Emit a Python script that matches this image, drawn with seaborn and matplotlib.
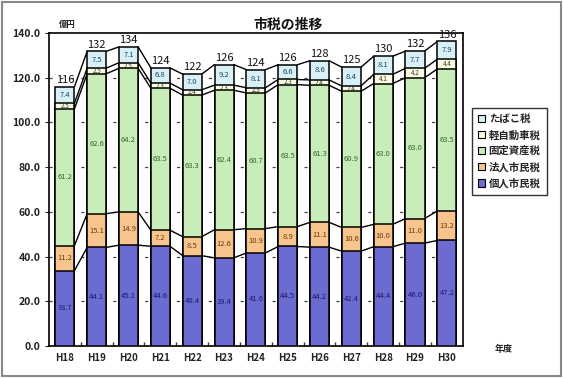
import numpy as np
import pandas as pd
import matplotlib
matplotlib.use("Agg")
import matplotlib.pyplot as plt
import seaborn as sns
from matplotlib.patches import Rectangle, Patch

# 年度
years = ["H18", "H19", "H20", "H21", "H22", "H23", "H24",
         "H25", "H26", "H27", "H28", "H29", "H30"]

# 税目別の税収（億円）
kojin = [33.7, 44.1, 45.1, 44.6, 40.4, 39.4, 41.6, 44.5, 44.2, 42.4, 44.4, 46.0, 47.2]
hojin = [11.2, 15.1, 14.9, 7.2, 8.5, 12.6, 10.9, 8.9, 11.1, 10.6, 10.0, 11.0, 13.2]
kotei = [61.2, 62.6, 64.2, 63.5, 63.3, 62.4, 60.7, 63.5, 61.3, 60.9, 63.0, 63.0, 63.5]
keijidosha = [2.5, 2.5, 2.5, 2.3, 2.4, 2.3, 2.3, 2.3, 2.4, 2.4, 4.1, 4.2, 4.4]
tabako = [7.4, 7.5, 7.1, 6.8, 7.0, 9.2, 8.1, 6.6, 8.6, 8.4, 8.1, 7.7, 7.9]

series_names = ["個人市民税", "法人市民税", "固定資産税", "軽自動車税", "たばこ税"]
series_values = [kojin, hojin, kotei, keijidosha, tabako]
series_colors = ["#6B6BD0", "#F8C48E", "#C9EDB9", "#FBFBDF", "#D7F1F7"]
label_colors = ["#1C1C6E", "#6B3A10", "#2E6B2E", "#333333", "#1F3F66"]

sns.set_theme(style="white")
plt.rcParams["font.family"] = ["Noto Sans CJK JP", "DejaVu Sans"]

df = pd.DataFrame({"年度": years})
for name, vals in zip(series_names, series_values):
    df[name] = vals
cum = df[series_names].cumsum(axis=1)
totals = cum[series_names[-1]]

fig = plt.figure(figsize=(5.63, 3.78), dpi=100)
fig.patch.set_facecolor("white")
ax = fig.add_axes([0.087, 0.0847, 0.735, 0.828])

bar_w = 0.6
# 上の層から順に累積値の棒を重ねて積み上げ棒を作る
for name, color in reversed(list(zip(series_names, series_colors))):
    sns.barplot(x=df["年度"], y=cum[name], color=color, saturation=1,
                edgecolor="black", linewidth=1.1, width=bar_w, ax=ax, zorder=3)

# 区分線（各層の上端を隣の棒とつなぐ）
for name in series_names:
    tops = cum[name].to_numpy()
    for i in range(len(years) - 1):
        ax.plot([i + bar_w / 2, i + 1 - bar_w / 2], [tops[i], tops[i + 1]],
                color="black", lw=1.0, zorder=2)

# 各層の値ラベル
for k, name in enumerate(series_names):
    vals = df[name].to_numpy()
    tops = cum[name].to_numpy()
    fs = 4.5 if name == "軽自動車税" else 5.5
    for i, v in enumerate(vals):
        ax.text(i, tops[i] - v / 2, f"{v:.1f}", ha="center", va="center",
                fontsize=fs, color=label_colors[k], zorder=5)

# 合計ラベル
for i, t in enumerate(totals):
    ax.text(i, t + 0.8, f"{t:.0f}", ha="center", va="bottom",
            fontsize=8, color="#111111", zorder=5)

ax.set_xlim(-0.5, len(years) - 0.5)
ax.set_ylim(0, 140)
ax.set_yticks(np.arange(0, 141, 20))
ax.set_yticklabels([f"{v:.1f}" for v in np.arange(0, 141, 20)],
                   fontsize=7.5, fontweight="bold", color="#222222")
ax.set_xticks(range(len(years)))
ax.set_xticklabels(years, fontsize=7, fontweight="bold", color="#222222")
ax.set_xlabel("")
ax.set_ylabel("")
ax.tick_params(axis="x", length=0, pad=5)
ax.tick_params(axis="y", length=3, width=0.8, direction="out", left=True, pad=3)
ax.set_xticks(np.arange(0.5, len(years) - 0.5, 1), minor=True)
ax.tick_params(axis="x", which="minor", length=3, direction="in", bottom=True, color="#333333")

# 目盛線（点線）
for y in range(20, 140, 20):
    ax.axhline(y, color="#444444", lw=0.9, ls=(0, (2.5, 6)), zorder=1)

for sp in ax.spines.values():
    sp.set_visible(True)
    sp.set_color("black")
    sp.set_linewidth(1.2)

fig.text(0.512, 0.934, "市税の推移", ha="center", va="center",
         fontsize=10, fontweight="bold", color="#111111")
fig.text(0.104, 0.935, "億円", ha="left", va="center",
         fontsize=6, fontweight="bold", color="#222222")
fig.text(0.878, 0.075, "年度", ha="left", va="center",
         fontsize=6.5, fontweight="bold", color="#222222")

handles = [Patch(facecolor=c, edgecolor="black", linewidth=0.8)
           for c in series_colors]
leg = fig.legend(handles[::-1], series_names[::-1], loc="upper left",
                 bbox_to_anchor=(0.829, 0.728), frameon=True, fancybox=False,
                 edgecolor="black", fontsize=7.5, handlelength=0.7,
                 handleheight=0.7, handletextpad=0.3, labelspacing=0.55,
                 borderpad=0.6, prop={"weight": "bold", "size": 7.5})
leg.get_frame().set_linewidth(1.0)

# 外枠
fig.patches.append(Rectangle((0.003, 0.004), 0.994, 0.992, transform=fig.transFigure,
                             fill=False, edgecolor="#888888", lw=1.5))

fig.savefig("out.png", dpi=100)
